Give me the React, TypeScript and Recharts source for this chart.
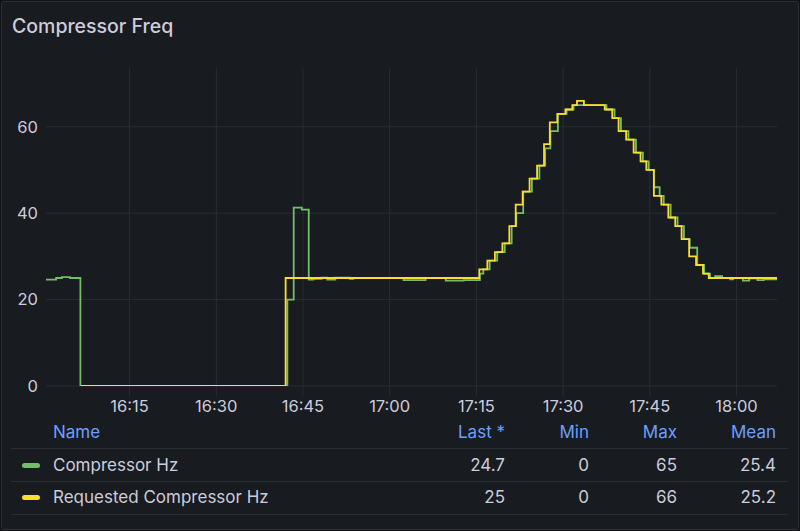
import { Line, LineChart, ReferenceLine, XAxis, YAxis } from "recharts";

// minutes after 16:00
const RANGE_START = 0.55;
const RANGE_END = 127;

const timeTicks = [15, 30, 45, 60, 75, 90, 105, 120];
const valueTicks = [0, 20, 40, 60];

// [minute, Hz] — held until the next point (step after)
const compressorHz: [number, number][] = [
  [0.55, 24.6], [2.3, 25.0], [3.3, 25.2], [4.7, 25.0], [6.5, 0],
  [42.3, 20], [43.4, 41.3], [44.8, 40.8], [46.0, 24.6], [46.8, 24.8],
  [48.2, 25.1], [49.2, 24.6], [50.6, 25.1], [53.1, 24.8], [53.7, 25.0],
  [62.4, 24.5], [66.2, 25.0], [69.7, 24.4], [72.8, 24.5],
  [75.6, 26], [76.2, 27], [77.3, 29], [78.6, 31], [79.9, 33], [81.1, 37],
  [81.9, 40], [83.1, 45], [84.6, 48], [85.9, 51], [86.9, 55], [87.8, 59],
  [89.1, 63], [90.6, 64], [91.8, 65], [97.5, 64], [98.9, 62], [100.0, 59],
  [101.3, 57], [102.6, 54], [103.8, 52], [104.8, 50], [105.7, 46], [106.7, 44],
  [107.4, 42], [108.6, 39], [109.8, 37], [110.9, 34], [111.9, 32], [113.2, 28],
  [114.4, 26], [115.4, 25], [116.3, 25.4], [117.5, 25], [118.9, 24.7],
  [119.4, 25], [121.1, 24.4], [122.2, 24.9], [123.6, 24.5], [124.7, 24.7],
  [127, 24.7],
];

const requestedHz: [number, number][] = [
  [6.6, 0], [42.0, 25],
  [75.5, 27], [76.9, 29], [78.2, 31], [79.5, 33], [80.7, 37], [81.8, 42],
  [83.0, 45], [84.2, 48], [85.5, 51], [86.7, 56], [87.7, 61], [89.0, 63],
  [90.4, 64], [91.6, 65], [92.4, 66], [93.6, 65], [97.2, 64], [98.5, 62],
  [99.6, 59], [100.9, 57], [102.2, 54], [103.4, 52], [104.4, 50], [105.7, 44],
  [107.0, 42], [108.2, 39], [109.4, 37], [110.5, 34], [111.8, 30], [113.0, 28],
  [114.2, 26], [115.2, 25], [127, 25],
];

const seriesNames = ["Compressor Hz", "Requested Compressor Hz"];
const seriesColors = ["#73bf69", "#fade2a"];
const lastValues = ["24.7", "25"];
const minValues = ["0", "0"];
const maxValues = ["65", "66"];
const meanValues = ["25.4", "25.2"];
const statHeaders = ["Last *", "Min", "Max", "Mean"];

const TEXT = "#ccccdc";
const LINK = "#6e9fff";
const GRID = "#2a2d32";
const FONT = "Inter, 'Noto Sans', sans-serif";

function toRows(points: [number, number][]) {
  return points.map(([t, v]) => ({ t, v }));
}

function clockLabel(minute: number) {
  const total = 16 * 60 + minute;
  const h = Math.floor(total / 60);
  const m = Math.round(total % 60);
  return `${h}:${String(m).padStart(2, "0")}`;
}

// right edges of the stat columns
const statRight = [505, 589, 677, 776];

function LegendTable() {
  const rowY = [465, 497];
  return (
    <div style={{ fontSize: 17 }}>
      <div style={{ position: "absolute", left: 53, top: 432, transform: "translateY(-50%)", color: LINK }}>Name</div>
      {statHeaders.map((h, i) => (
        <div
          key={h}
          style={{ position: "absolute", right: 800 - statRight[i], top: 432, transform: "translateY(-50%)", color: LINK }}
        >
          {h}
        </div>
      ))}
      {[448, 481, 514].map((y) => (
        <div key={y} style={{ position: "absolute", left: 11, width: 777, top: y, height: 1, background: GRID }} />
      ))}
      {seriesNames.map((name, r) => {
        const stats = [lastValues[r], minValues[r], maxValues[r], meanValues[r]];
        return (
          <div key={name}>
            <div
              style={{
                position: "absolute",
                left: 22,
                top: rowY[r] - 2,
                width: 18,
                height: 5,
                borderRadius: 3,
                background: seriesColors[r],
              }}
            />
            <div style={{ position: "absolute", left: 53, top: rowY[r], transform: "translateY(-50%)" }}>{name}</div>
            {stats.map((s, i) => (
              <div
                key={i}
                style={{ position: "absolute", right: 800 - statRight[i], top: rowY[r], transform: "translateY(-50%)" }}
              >
                {s}
              </div>
            ))}
          </div>
        );
      })}
    </div>
  );
}

export default function App() {
  return (
    <div
      style={{
        position: "absolute",
        left: 0,
        top: 0,
        width: 800,
        height: 531,
        background: "#111217",
        fontFamily: FONT,
        color: TEXT,
        fontSize: 16,
      }}
    >
      <div
        style={{
          position: "absolute",
          inset: 1,
          background: "#181b1f",
          border: "1px solid #2b2f36",
          borderRadius: 3,
          boxSizing: "border-box",
        }}
      />
      <div style={{ position: "absolute", left: 12, top: 26, transform: "translateY(-50%)", fontSize: 19.5, fontWeight: 500 }}>
        Compressor Freq
      </div>
      <div style={{ position: "absolute", left: 0, top: 0 }}>
        <LineChart width={800} height={420} margin={{ top: 68, right: 23, bottom: 4, left: 0 }}>
          <XAxis
            dataKey="t"
            type="number"
            domain={[RANGE_START, RANGE_END]}
            ticks={timeTicks}
            tickFormatter={clockLabel}
            allowDataOverflow
            height={30}
            axisLine={false}
            tickLine={{ stroke: GRID }}
            tickSize={10}
            tickMargin={4}
            tick={{ fill: TEXT, fontSize: 16.5, fontFamily: FONT }}
          />
          <YAxis
            type="number"
            domain={[0, 73.6]}
            ticks={valueTicks}
            allowDataOverflow
            width={46}
            axisLine={false}
            tickLine={false}
            tickSize={0}
            tickMargin={8}
            tick={{ fill: TEXT, fontSize: 16.5, fontFamily: FONT }}
          />
          {valueTicks.map((v) => (
            <ReferenceLine key={`h${v}`} y={v} stroke={GRID} strokeWidth={1} />
          ))}
          {timeTicks.map((t) => (
            <ReferenceLine key={`v${t}`} x={t} stroke={GRID} strokeWidth={1} />
          ))}
          <Line
            data={toRows(compressorHz)}
            dataKey="v"
            name={seriesNames[0]}
            type="stepAfter"
            stroke={seriesColors[0]}
            strokeWidth={1.8}
            dot={false}
            isAnimationActive={false}
          />
          <Line
            data={toRows(requestedHz)}
            dataKey="v"
            name={seriesNames[1]}
            type="stepAfter"
            stroke={seriesColors[1]}
            strokeWidth={1.8}
            dot={false}
            isAnimationActive={false}
          />
        </LineChart>
      </div>
      <LegendTable />
    </div>
  );
}
